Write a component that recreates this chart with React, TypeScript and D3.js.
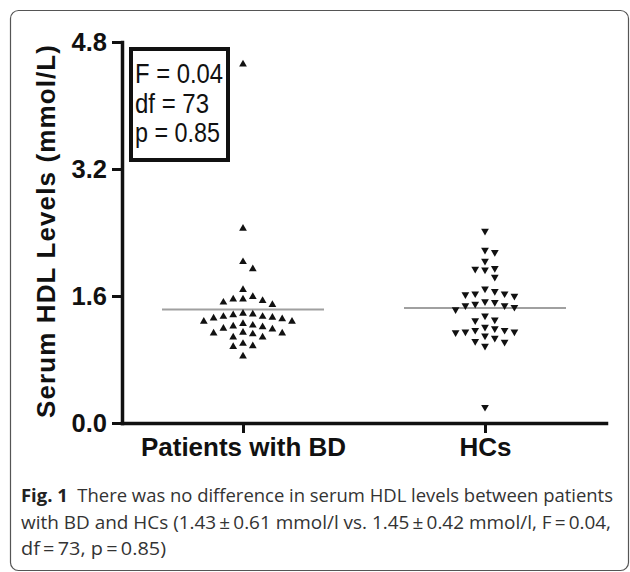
import React, { useEffect, useRef } from "react";
import * as d3 from "d3";

// groups and values (mmol/L)
const categories = ["Patients with BD", "HCs"];
const bdValues = [4.52, 2.45, 2.03, 1.94, 1.68, 1.59, 1.56, 1.56, 1.54, 1.52, 1.49, 1.38, 1.37, 1.36, 1.34, 1.34, 1.33, 1.32, 1.31, 1.28, 1.28, 1.25, 1.23, 1.22, 1.21, 1.19, 1.18, 1.14, 1.13, 1.13, 1.12, 1.08, 1.08, 1.0, 0.97, 0.96, 0.84];
const hcValues = [2.42, 2.18, 2.15, 2.04, 1.95, 1.94, 1.93, 1.84, 1.69, 1.66, 1.63, 1.63, 1.62, 1.6, 1.53, 1.52, 1.5, 1.48, 1.48, 1.46, 1.43, 1.35, 1.3, 1.29, 1.21, 1.19, 1.17, 1.17, 1.15, 1.15, 1.14, 1.1, 1.07, 1.03, 1.02, 0.97, 0.2];
const groupMeans = [1.43, 1.45];
const yTicks = [0, 1.6, 3.2, 4.8];
const statLines = ["F = 0.04", "df = 73", "p = 0.85"];
const yTitle = "Serum HDL Levels (mmol/L)";
const captionLines = [
  "There was no difference in serum HDL levels between patients",
  "with BD and HCs (1.43\u2009\u00b1\u20090.61 mmol/l vs. 1.45\u2009\u00b1\u20090.42 mmol/l, F\u2009=\u20090.04,",
  "df\u2009=\u200973, p\u2009=\u20090.85)",
];

const W = 630, H = 572;
const axisFont = "'Liberation Sans', Arial, Helvetica, sans-serif";

// simple column scatter: push points sideways until they don't overlap
function dodge(values: number[], y: (v: number) => number, minGap: number) {
  const placed: { col: number; py: number }[] = [];
  const order = values.map((v, i) => i).sort((a, b) => values[b] - values[a]);
  const cols = new Array(values.length).fill(0);
  order.forEach((i) => {
    const py = y(values[i]);
    for (let k = 0; k < 40; k++) {
      const col = k === 0 ? 0 : (k % 2 === 1 ? (k + 1) / 2 : -k / 2);
      const hit = placed.some((p) => p.col === col && Math.abs(p.py - py) < minGap);
      if (!hit) {
        placed.push({ col, py });
        cols[i] = col;
        break;
      }
    }
  });
  return cols;
}

export default function App() {
  const ref = useRef<SVGSVGElement>(null);

  useEffect(() => {
    const svg = d3.select(ref.current);
    svg.selectAll("*").remove();

    // figure frame
    svg.append("rect")
      .attr("x", 10.5).attr("y", 10.5)
      .attr("width", 618).attr("height", 560)
      .attr("rx", 8)
      .attr("fill", "none")
      .attr("stroke", "#555")
      .attr("stroke-width", 1.2);

    var yScale = d3.scaleLinear().domain([0, 4.8]).range([423, 42]);
    var xScale = d3.scalePoint().domain(categories).range([122, 606]).padding(0.5);

    // y axis
    var yAxis = d3.axisLeft(yScale)
      .tickValues(yTicks)
      .tickFormat(d3.format(".1f"))
      .tickSize(10)
      .tickSizeOuter(0)
      .tickPadding(5);
    var gy = svg.append("g").attr("transform", "translate(122,0)").call(yAxis);
    gy.select(".domain").attr("stroke", "#111").attr("stroke-width", 3.5).attr("stroke-linecap", "square");
    gy.selectAll(".tick line").attr("stroke", "#111").attr("stroke-width", 3);
    gy.selectAll(".tick text")
      .attr("fill", "#111")
      .attr("font-family", axisFont)
      .attr("font-weight", "bold")
      .attr("font-size", 25.5);

    // x axis
    var xAxis = d3.axisBottom(xScale).tickSize(10).tickSizeOuter(0).tickPadding(5);
    var gx = svg.append("g").attr("transform", "translate(0,423)").call(xAxis);
    gx.select(".domain").attr("stroke", "#111").attr("stroke-width", 3.5).attr("stroke-linecap", "square");
    gx.selectAll(".tick line").attr("stroke", "#111").attr("stroke-width", 3);
    gx.selectAll(".tick text")
      .attr("fill", "#111")
      .attr("font-family", axisFont)
      .attr("font-weight", "bold")
      .attr("font-size", 26);

    // y title
    svg.append("text")
      .attr("transform", "translate(55,231.5) rotate(-90)")
      .attr("text-anchor", "middle")
      .attr("font-family", axisFont)
      .attr("font-weight", "bold")
      .attr("font-size", 26)
      .attr("fill", "#111")
      .attr("textLength", 373)
      .attr("lengthAdjust", "spacing")
      .text(yTitle);

    // mean lines
    svg.selectAll(".mean")
      .data(groupMeans)
      .enter()
      .append("line")
      .attr("x1", (d, i) => (xScale(categories[i]) as number) - 81)
      .attr("x2", (d, i) => (xScale(categories[i]) as number) + 81)
      .attr("y1", (d) => yScale(d))
      .attr("y2", (d) => yScale(d))
      .attr("stroke", "#a0a0a0")
      .attr("stroke-width", 2);

    // points
    var tri = d3.symbol().type(d3.symbolTriangle).size(26);
    var step = 9.8;
    [bdValues, hcValues].forEach((vals, gi) => {
      var cols = dodge(vals, yScale, 8);
      var cx = xScale(categories[gi]) as number;
      svg.append("g")
        .selectAll("path")
        .data(vals)
        .enter()
        .append("path")
        .attr("d", tri() as string)
        .attr("transform", (d, i) =>
          "translate(" + (cx + cols[i] * step) + "," + yScale(d) + ")" + (gi === 1 ? " rotate(180)" : ""))
        .attr("fill", "#111");
    });

    // stats box
    svg.append("rect")
      .attr("x", 131).attr("y", 49)
      .attr("width", 97).attr("height", 111)
      .attr("fill", "white")
      .attr("stroke", "#111")
      .attr("stroke-width", 4);
    var statWidths = [88, 74, 85];
    svg.selectAll(".stat")
      .data(statLines)
      .enter()
      .append("text")
      .attr("x", 135)
      .attr("y", (d, i) => 83 + i * 29.5)
      .attr("font-family", axisFont)
      .attr("font-size", 28)
      .attr("fill", "#111")
      .attr("textLength", (d, i) => statWidths[i])
      .attr("lengthAdjust", "spacingAndGlyphs")
      .text((d) => d);

    // caption
    var capFont = "'Open Sans', 'Noto Sans', sans-serif";
    var capWidths = [592, 590, 145];
    captionLines.forEach((line, i) => {
      var t = svg.append("text")
        .attr("x", 21)
        .attr("y", 502 + i * 26.5)
        .attr("font-family", capFont)
        .attr("font-size", 18.5)
        .attr("fill", "#333")
        .attr("textLength", capWidths[i])
        .attr("lengthAdjust", "spacingAndGlyphs");
      if (i === 0) {
        t.append("tspan").attr("font-weight", "bold").attr("fill", "#222").text("Fig. 1");
        t.append("tspan").text("\u00a0 " + line);
      } else {
        t.text(line);
      }
    });
  }, []);

  return (
    <svg
      ref={ref}
      width={W}
      height={H}
      style={{ position: "absolute", left: 0, top: 0, background: "white" }}
    ></svg>
  );
}
